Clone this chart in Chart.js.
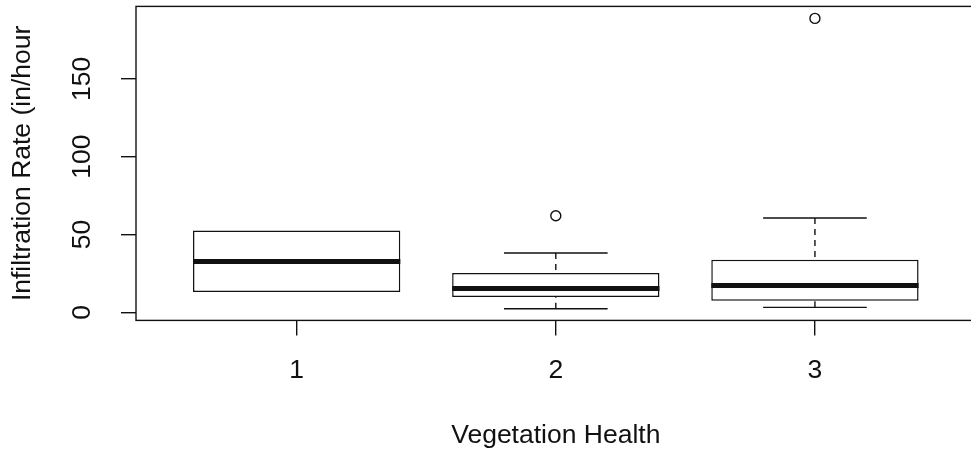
<!DOCTYPE html>
<html lang="en">

<head>
    <meta charset="UTF-8">
    <meta name="viewport" content="width=device-width, initial-scale=1.0">
    <title>Infiltration Rate by Vegetation Health</title>
    <script src="https://cdn.jsdelivr.net/npm/chart.js"></script>
    <style>
        html, body { margin: 0; padding: 0; background: white; overflow: hidden; }
        .grafica { width: 982px; height: 455px; position: relative; }
    </style>
</head>

<body>
    <div class="grafica">
        <canvas id="myChart"></canvas>
    </div>
    <script>
        // values
        const groups = ["1", "2", "3"];
        const whiskerLow = [13.0, 2.3, 3.2];
        const q1 = [13.0, 9.8, 7.4];
        const median = [32.6, 15.3, 17.2];
        const q3 = [52.5, 25.3, 33.8];
        const whiskerHigh = [52.5, 38.1, 60.6];
        const outlierGroup = [2, 3];
        const outlierValue = [62.1, 188.9];
        const yTicks = [0, 50, 100, 150];

        const ink = "#111";
        const font = "'Liberation Sans', Arial, sans-serif";

        // whiskers, caps and medians, placed with the chart's own scales
        const boxplotLines = {
            id: "boxplotLines",
            afterDatasetsDraw(chart) {
                const { ctx, scales: { x, y } } = chart;
                const bars = chart.getDatasetMeta(0).data;
                const seg = (x1, y1, x2, y2) => {
                    ctx.beginPath();
                    ctx.moveTo(x1, y1);
                    ctx.lineTo(x2, y2);
                    ctx.stroke();
                };
                ctx.save();
                ctx.strokeStyle = ink;
                ctx.lineCap = "butt";
                groups.forEach((g, i) => {
                    const cx = x.getPixelForValue(i + 1);
                    const capHalf = x.getPixelForValue(i + 1.2) - cx;
                    const hi = y.getPixelForValue(whiskerHigh[i]);
                    const lo = y.getPixelForValue(whiskerLow[i]);
                    ctx.lineWidth = 1.4;
                    if (whiskerHigh[i] > q3[i]) {
                        ctx.setLineDash([6, 5]);
                        seg(cx, hi, cx, y.getPixelForValue(q3[i]));
                        ctx.setLineDash([]);
                        seg(cx - capHalf, hi, cx + capHalf, hi);
                    }
                    if (whiskerLow[i] < q1[i]) {
                        ctx.setLineDash([6, 5]);
                        seg(cx, lo, cx, y.getPixelForValue(q1[i]));
                        ctx.setLineDash([]);
                        seg(cx - capHalf, lo, cx + capHalf, lo);
                    }
                    const bar = bars[i];
                    const ym = y.getPixelForValue(median[i]);
                    ctx.lineWidth = 5;
                    seg(bar.x - bar.width / 2, ym, bar.x + bar.width / 2, ym);
                });
                ctx.restore();
            }
        };

        // plot frame
        const frame = {
            id: "frame",
            afterDraw(chart) {
                const { ctx, chartArea: a } = chart;
                ctx.save();
                ctx.strokeStyle = ink;
                ctx.lineWidth = 1.4;
                ctx.strokeRect(a.left, a.top, a.right - a.left, a.bottom - a.top);
                ctx.restore();
            }
        };

        const boxes = groups.map((g, i) => ({ x: i + 1, y: [q1[i], q3[i]] }));
        const outliers = outlierGroup.map((g, i) => ({ x: g, y: outlierValue[i] }));

        const config = {
            type: "bar",
            data: {
                datasets: [
                    {
                        type: "bar",
                        data: boxes,
                        backgroundColor: "white",
                        borderColor: ink,
                        borderWidth: 1.5,
                        borderSkipped: false,
                        barPercentage: 0.8,
                        categoryPercentage: 1
                    },
                    {
                        type: "scatter",
                        data: outliers,
                        pointRadius: 5,
                        pointBackgroundColor: "white",
                        pointBorderColor: ink,
                        pointBorderWidth: 1.4
                    }
                ]
            },
            options: {
                responsive: true,
                maintainAspectRatio: false,
                animation: false,
                layout: { padding: { top: 4.6, right: 2.3, left: 0, bottom: 0 } },
                plugins: { legend: { display: false }, tooltip: { enabled: false } },
                scales: {
                    x: {
                        type: "linear",
                        min: 0.38,
                        max: 3.62,
                        offset: false,
                        afterBuildTicks: (scale) => { scale.ticks = groups.map((g, i) => ({ value: i + 1 })); },
                        afterFit: (scale) => {
                            scale.height = 134.6;
                            scale.paddingLeft = 0;
                            scale.paddingRight = 0;
                        },
                        grid: { display: true, offset: false, drawOnChartArea: false, drawTicks: true, tickLength: 15, tickColor: ink, lineWidth: 1.4 },
                        border: { display: false },
                        ticks: {
                            autoSkip: false,
                            maxRotation: 0,
                            padding: 19,
                            color: ink,
                            font: { family: font, size: 26.5 },
                            callback: (v, i) => groups[i]
                        },
                        title: {
                            display: true,
                            text: "Vegetation Health",
                            color: ink,
                            font: { family: font, size: 26.5 },
                            padding: { top: 0, bottom: 3.8 }
                        }
                    },
                    y: {
                        type: "linear",
                        min: -5.2,
                        max: 196.6,
                        afterBuildTicks: (scale) => { scale.ticks = yTicks.map((v) => ({ value: v })); },
                        afterFit: (scale) => {
                            scale.width = 136;
                            scale.paddingTop = 0;
                            scale.paddingBottom = 0;
                        },
                        grid: { display: true, drawOnChartArea: false, drawTicks: true, tickLength: 15, tickColor: ink, lineWidth: 1.4 },
                        border: { display: false },
                        ticks: {
                            minRotation: 90,
                            maxRotation: 90,
                            crossAlign: "center",
                            padding: 16,
                            color: ink,
                            font: { family: font, size: 26.5 }
                        },
                        title: {
                            display: true,
                            text: "Infiltration Rate (in/hour",
                            color: ink,
                            font: { family: font, size: 26.5 },
                            padding: { top: 6.9, bottom: 0 }
                        }
                    }
                }
            },
            plugins: [boxplotLines, frame]
        };

        new Chart(document.getElementById("myChart"), config);
    </script>
</body>

</html>
